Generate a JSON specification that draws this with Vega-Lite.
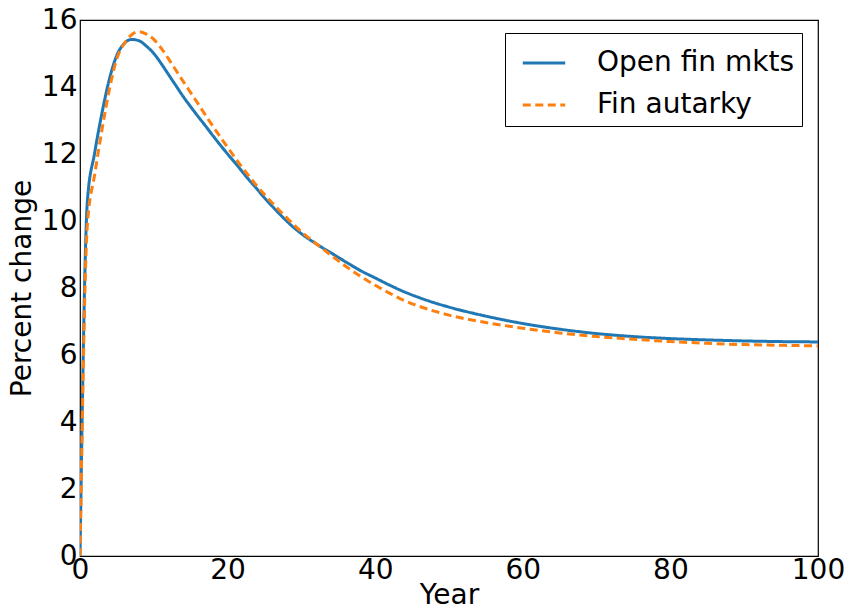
{
  "$schema": "https://vega.github.io/schema/vega-lite/v6.json",
  "width": 738,
  "height": 536,
  "autosize": "none",
  "padding": {"left": 80, "top": 20, "right": 32, "bottom": 55},
  "background": "white",
  "config": {
    "font": "DejaVu Sans",
    "view": {"stroke": "black", "strokeWidth": 1.2},
    "axis": {
      "domain": false,
      "ticks": false,
      "grid": false,
      "labelFont": "DejaVu Sans",
      "labelFontSize": 28,
      "labelColor": "black",
      "titleFont": "DejaVu Sans",
      "titleFontSize": 28,
      "titleFontWeight": "normal",
      "titleColor": "black"
    }
  },
  "datasets": {
    "series": [
      {"year": 0, "value": 0, "series": "Open fin mkts"},
      {"year": 1, "value": 10.6, "series": "Open fin mkts"},
      {"year": 2, "value": 12.05, "series": "Open fin mkts"},
      {"year": 3, "value": 13.25, "series": "Open fin mkts"},
      {"year": 4, "value": 14.25, "series": "Open fin mkts"},
      {"year": 5, "value": 14.95, "series": "Open fin mkts"},
      {"year": 6, "value": 15.3, "series": "Open fin mkts"},
      {"year": 7, "value": 15.42, "series": "Open fin mkts"},
      {"year": 8, "value": 15.38, "series": "Open fin mkts"},
      {"year": 9, "value": 15.22, "series": "Open fin mkts"},
      {"year": 10, "value": 15.0, "series": "Open fin mkts"},
      {"year": 11, "value": 14.7, "series": "Open fin mkts"},
      {"year": 12, "value": 14.37, "series": "Open fin mkts"},
      {"year": 13, "value": 14.04, "series": "Open fin mkts"},
      {"year": 14, "value": 13.71, "series": "Open fin mkts"},
      {"year": 15, "value": 13.41, "series": "Open fin mkts"},
      {"year": 16, "value": 13.12, "series": "Open fin mkts"},
      {"year": 17, "value": 12.84, "series": "Open fin mkts"},
      {"year": 18, "value": 12.55, "series": "Open fin mkts"},
      {"year": 19, "value": 12.27, "series": "Open fin mkts"},
      {"year": 20, "value": 12.0, "series": "Open fin mkts"},
      {"year": 21, "value": 11.74, "series": "Open fin mkts"},
      {"year": 22, "value": 11.47, "series": "Open fin mkts"},
      {"year": 23, "value": 11.2, "series": "Open fin mkts"},
      {"year": 24, "value": 10.95, "series": "Open fin mkts"},
      {"year": 25, "value": 10.69, "series": "Open fin mkts"},
      {"year": 26, "value": 10.45, "series": "Open fin mkts"},
      {"year": 27, "value": 10.22, "series": "Open fin mkts"},
      {"year": 28, "value": 10.0, "series": "Open fin mkts"},
      {"year": 29, "value": 9.8, "series": "Open fin mkts"},
      {"year": 30, "value": 9.62, "series": "Open fin mkts"},
      {"year": 32, "value": 9.32, "series": "Open fin mkts"},
      {"year": 34, "value": 9.05, "series": "Open fin mkts"},
      {"year": 36, "value": 8.78, "series": "Open fin mkts"},
      {"year": 38, "value": 8.52, "series": "Open fin mkts"},
      {"year": 40, "value": 8.3, "series": "Open fin mkts"},
      {"year": 42, "value": 8.08, "series": "Open fin mkts"},
      {"year": 44, "value": 7.88, "series": "Open fin mkts"},
      {"year": 46, "value": 7.71, "series": "Open fin mkts"},
      {"year": 48, "value": 7.56, "series": "Open fin mkts"},
      {"year": 50, "value": 7.43, "series": "Open fin mkts"},
      {"year": 55, "value": 7.16, "series": "Open fin mkts"},
      {"year": 60, "value": 6.94, "series": "Open fin mkts"},
      {"year": 65, "value": 6.77, "series": "Open fin mkts"},
      {"year": 70, "value": 6.64, "series": "Open fin mkts"},
      {"year": 75, "value": 6.55, "series": "Open fin mkts"},
      {"year": 80, "value": 6.49, "series": "Open fin mkts"},
      {"year": 85, "value": 6.45, "series": "Open fin mkts"},
      {"year": 90, "value": 6.42, "series": "Open fin mkts"},
      {"year": 95, "value": 6.4, "series": "Open fin mkts"},
      {"year": 100, "value": 6.39, "series": "Open fin mkts"},
      {"year": 0, "value": 0, "series": "Fin autarky"},
      {"year": 1, "value": 9.9, "series": "Fin autarky"},
      {"year": 2, "value": 11.4, "series": "Fin autarky"},
      {"year": 3, "value": 12.75, "series": "Fin autarky"},
      {"year": 4, "value": 13.95, "series": "Fin autarky"},
      {"year": 5, "value": 14.85, "series": "Fin autarky"},
      {"year": 6, "value": 15.3, "series": "Fin autarky"},
      {"year": 7, "value": 15.56, "series": "Fin autarky"},
      {"year": 8, "value": 15.65, "series": "Fin autarky"},
      {"year": 9, "value": 15.58, "series": "Fin autarky"},
      {"year": 10, "value": 15.42, "series": "Fin autarky"},
      {"year": 11, "value": 15.16, "series": "Fin autarky"},
      {"year": 12, "value": 14.84, "series": "Fin autarky"},
      {"year": 13, "value": 14.5, "series": "Fin autarky"},
      {"year": 14, "value": 14.16, "series": "Fin autarky"},
      {"year": 15, "value": 13.83, "series": "Fin autarky"},
      {"year": 16, "value": 13.5, "series": "Fin autarky"},
      {"year": 17, "value": 13.16, "series": "Fin autarky"},
      {"year": 18, "value": 12.83, "series": "Fin autarky"},
      {"year": 19, "value": 12.51, "series": "Fin autarky"},
      {"year": 20, "value": 12.2, "series": "Fin autarky"},
      {"year": 21, "value": 11.89, "series": "Fin autarky"},
      {"year": 22, "value": 11.59, "series": "Fin autarky"},
      {"year": 23, "value": 11.31, "series": "Fin autarky"},
      {"year": 24, "value": 11.04, "series": "Fin autarky"},
      {"year": 25, "value": 10.79, "series": "Fin autarky"},
      {"year": 26, "value": 10.55, "series": "Fin autarky"},
      {"year": 27, "value": 10.32, "series": "Fin autarky"},
      {"year": 28, "value": 10.1, "series": "Fin autarky"},
      {"year": 29, "value": 9.88, "series": "Fin autarky"},
      {"year": 30, "value": 9.68, "series": "Fin autarky"},
      {"year": 32, "value": 9.32, "series": "Fin autarky"},
      {"year": 34, "value": 8.98, "series": "Fin autarky"},
      {"year": 36, "value": 8.65, "series": "Fin autarky"},
      {"year": 38, "value": 8.35, "series": "Fin autarky"},
      {"year": 40, "value": 8.08, "series": "Fin autarky"},
      {"year": 42, "value": 7.84, "series": "Fin autarky"},
      {"year": 44, "value": 7.62, "series": "Fin autarky"},
      {"year": 46, "value": 7.45, "series": "Fin autarky"},
      {"year": 48, "value": 7.31, "series": "Fin autarky"},
      {"year": 50, "value": 7.19, "series": "Fin autarky"},
      {"year": 55, "value": 6.97, "series": "Fin autarky"},
      {"year": 60, "value": 6.8, "series": "Fin autarky"},
      {"year": 65, "value": 6.66, "series": "Fin autarky"},
      {"year": 70, "value": 6.55, "series": "Fin autarky"},
      {"year": 75, "value": 6.47, "series": "Fin autarky"},
      {"year": 80, "value": 6.4, "series": "Fin autarky"},
      {"year": 85, "value": 6.35, "series": "Fin autarky"},
      {"year": 90, "value": 6.31, "series": "Fin autarky"},
      {"year": 95, "value": 6.29, "series": "Fin autarky"},
      {"year": 100, "value": 6.27, "series": "Fin autarky"}
    ]
  },
  "data": {"name": "series"},
  "mark": {"type": "line", "strokeWidth": 3, "interpolate": "monotone", "clip": true},
  "encoding": {
    "x": {
      "field": "year",
      "type": "quantitative",
      "title": "Year",
      "scale": {"domain": [0, 100], "nice": false, "zero": false},
      "axis": {"values": [0, 20, 40, 60, 80, 100], "labelPadding": 0, "titlePadding": -3, "labelFlush": false}
    },
    "y": {
      "field": "value",
      "type": "quantitative",
      "title": "Percent change",
      "scale": {"domain": [0, 16], "nice": false},
      "axis": {"values": [0, 2, 4, 6, 8, 10, 12, 14, 16], "labelPadding": 3, "titlePadding": 5, "labelFlush": false}
    },
    "color": {
      "field": "series",
      "type": "nominal",
      "scale": {"domain": ["Open fin mkts", "Fin autarky"], "range": ["#1f77b4", "#ff7f0e"]},
      "legend": {
        "title": null,
        "orient": "none",
        "legendX": 425,
        "legendY": 13,
        "direction": "vertical",
        "symbolType": "stroke",
        "symbolSize": 1800,
        "symbolStrokeWidth": 3,
        "symbolOffset": 9,
        "labelFontSize": 28,
        "labelFont": "DejaVu Sans",
        "labelColor": "black",
        "labelOffset": 30,
        "labelLimit": 0,
        "rowPadding": 5,
        "padding": 7,
        "strokeColor": "black",
        "fillColor": "white",
        "cornerRadius": 0
      }
    },
    "strokeDash": {
      "field": "series",
      "type": "nominal",
      "scale": {"domain": ["Open fin mkts", "Fin autarky"], "range": [[1, 0], [8, 4.5]]},
      "legend": null
    }
  }
}
